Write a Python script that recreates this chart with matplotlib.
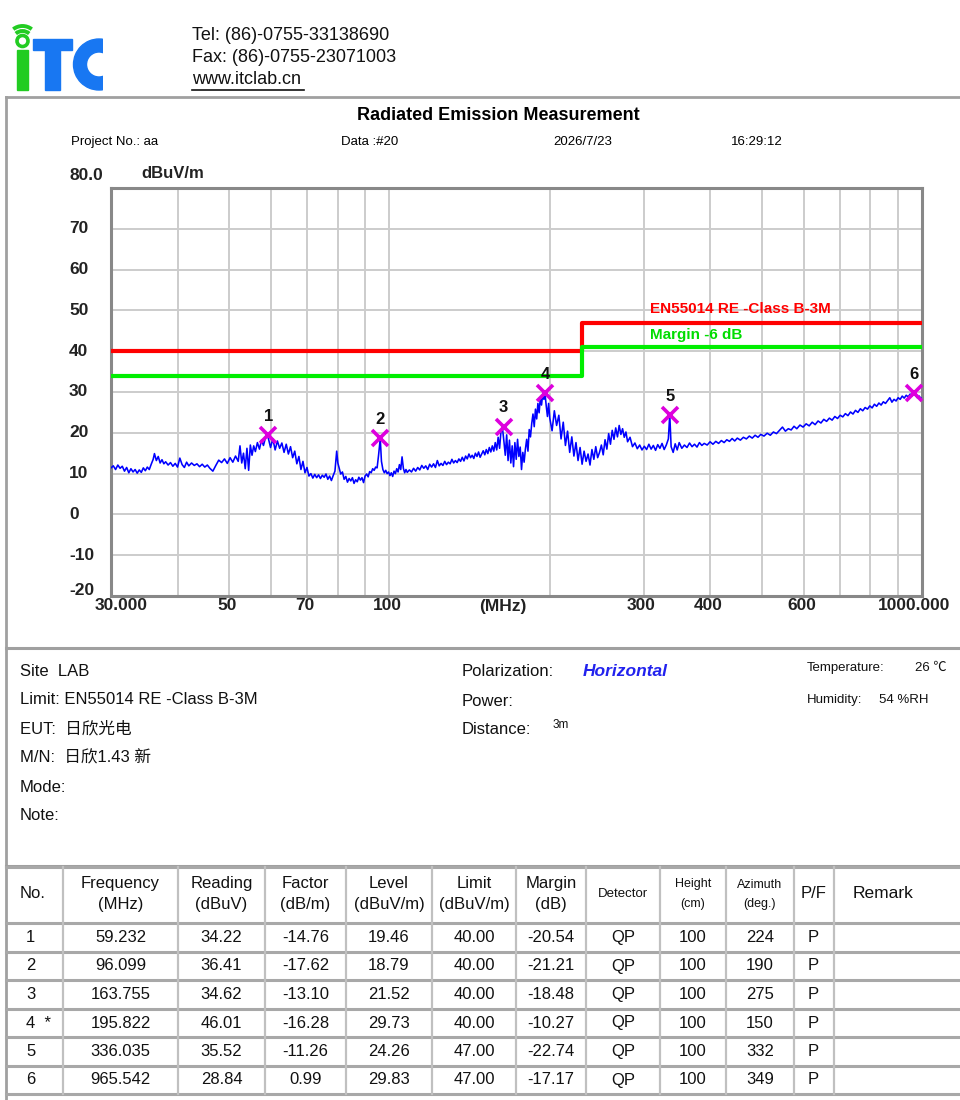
import matplotlib
matplotlib.use('Agg')
import matplotlib.pyplot as plt
from matplotlib.patches import Rectangle, Circle, Arc, Wedge
from matplotlib.ticker import NullLocator, FixedLocator

plt.rcParams['font.family'] = ['Liberation Sans', 'Noto Sans CJK SC', 'DejaVu Sans']

# ---------------- data ----------------
trace_freq = [
    30.0, 30.3, 30.6, 30.9, 31.2, 31.5, 31.8, 32.1, 32.4, 32.7, 33.0, 33.3, 33.6, 33.9,
    34.2, 34.5, 34.8, 35.1, 35.4, 35.7, 36.0, 36.2, 36.5, 36.8, 37.1, 37.4, 37.7, 38.0,
    38.4, 38.8, 39.2, 39.6, 40.0, 40.4, 40.8, 41.2, 41.6, 42.0, 42.5, 43.0, 43.5, 44.0,
    44.5, 45.0, 45.5, 46.0, 46.6, 47.2, 47.8, 48.4, 49.0, 49.6, 50.2, 50.8, 51.4, 52.0,
    52.4, 52.8, 53.2, 53.6, 54.0, 54.4, 54.8, 55.2, 55.6, 56.0, 56.5, 57.0, 57.5, 58.0,
    58.6, 59.2, 59.8, 60.4, 61.0, 61.6, 62.2, 62.8, 63.4, 64.0, 64.6, 65.2, 65.8, 66.4,
    67.0, 67.6, 68.2, 68.8, 69.4, 70.0, 70.6, 71.2, 71.8, 72.4, 73.0, 73.6, 74.2, 74.8,
    75.4, 76.0, 76.6, 77.2, 77.8, 78.4, 79.0, 79.6, 80.0, 80.5, 81.0, 81.6, 82.2, 82.8,
    83.4, 84.0, 84.6, 85.2, 85.8, 86.4, 87.0, 87.6, 88.2, 88.8, 89.4, 90.0, 90.6, 91.2,
    91.8, 92.4, 93.0, 93.6, 94.2, 94.8, 95.4, 96.1, 96.6, 97.2, 97.8, 98.4, 99.0, 99.6,
    100.2, 100.8, 101.4, 102.0, 102.6, 103.2, 103.8, 104.4, 105.0, 105.6, 106.2, 106.8,
    107.4, 108.0, 109, 110, 111, 112, 113, 114, 115, 116, 117, 118, 119, 120, 121, 122,
    123, 124, 125, 126, 127, 128, 129, 130, 131, 132, 133, 134, 135, 136, 137, 138, 139,
    140, 141, 142, 143, 144, 145, 146, 147, 148, 149, 150, 151, 152, 153, 154, 155, 156,
    157, 158, 159, 160, 161, 162, 163, 164, 165, 166, 167, 168, 169, 170, 171, 172, 173,
    174, 175, 176, 177, 178, 179, 180, 181, 182, 183, 184, 185, 186, 187, 188, 189, 190,
    191, 192, 193, 194, 195, 196, 197, 198, 199, 200, 202, 204, 206, 208, 210, 212, 214,
    216, 218, 220, 222, 224, 226, 228, 230, 232, 234, 236, 238, 240, 242, 244, 246, 248,
    250, 252, 254, 256, 258, 260, 262, 264, 266, 268, 270, 272, 274, 276, 278, 280, 283,
    286, 289, 292, 295, 298, 301, 304, 307, 310, 313, 316, 319, 322, 325, 328, 331, 334,
    336, 338, 341, 344, 347, 350, 354, 358, 362, 366, 370, 374, 378, 382, 386, 390, 395,
    400, 405, 410, 415, 420, 425, 430, 435, 440, 445, 450, 456, 462, 468, 474, 480, 486,
    492, 498, 505, 512, 519, 526, 533, 540, 547, 554, 561, 568, 575, 582, 590, 598, 606,
    614, 622, 630, 638, 646, 654, 662, 670, 678, 686, 694, 702, 710, 718, 726, 734, 742,
    750, 758, 766, 774, 782, 790, 798, 806, 814, 822, 830, 838, 846, 854, 862, 870, 878,
    886, 894, 902, 910, 918, 926, 934, 942, 950, 958, 965, 972, 980, 988, 995, 1000]
trace_level = [
    11.4, 11.9, 11.0, 12.1, 11.3, 11.8, 10.6, 11.5, 10.2, 11.2, 10.4, 11.0, 10.1, 10.9,
    10.3, 11.4, 10.7, 11.6, 11.0, 12.3, 13.5, 14.9, 13.2, 14.2, 12.6, 13.4, 12.4, 12.9,
    12.1, 12.7, 11.8, 12.5, 11.6, 13.8, 12.2, 11.5, 12.8, 11.9, 12.6, 12.0, 12.4, 11.7,
    12.3, 11.6, 12.1, 11.3, 10.6, 12.0, 13.3, 12.7, 13.6, 12.5, 13.9, 12.8, 14.3, 13.0,
    16.8, 12.6, 15.0, 11.2, 16.2, 10.8, 17.0, 14.5, 16.8, 15.4, 17.6, 16.0, 18.2, 16.9,
    19.2, 18.8, 16.4, 18.5, 15.8, 18.0, 16.2, 17.5, 15.2, 17.2, 14.8, 16.6, 13.9, 15.5,
    12.4, 14.2, 11.0, 13.0, 10.2, 11.5, 9.4, 10.0, 8.9, 9.8, 9.0, 9.7, 8.8, 9.6,
    9.1, 9.9, 8.6, 9.4, 8.3, 9.5, 10.6, 15.5, 12.6, 11.2, 9.9, 10.4, 8.6, 9.3,
    7.9, 8.8, 8.2, 9.0, 7.6, 8.5, 8.0, 9.1, 8.4, 9.0, 7.8, 9.4, 9.9, 9.2,
    10.5, 10.2, 11.2, 10.8, 11.6, 11.4, 14.5, 18.6, 13.0, 11.0, 10.2, 10.8, 10.0, 10.4,
    9.5, 10.2, 9.3, 10.6, 10.0, 11.2, 10.4, 12.2, 11.0, 14.1, 11.3, 10.2,
    11.0, 10.3, 10.9, 10.4, 11.3, 10.6, 11.5, 10.9, 12.0, 11.3, 11.9, 11.0, 12.3, 11.6, 12.4, 11.5,
    13.2, 11.9, 12.5, 12.0, 13.0, 12.2, 12.8, 12.4, 13.5, 12.6, 13.2, 12.7, 13.6, 13.0, 14.0, 13.1, 14.3,
    13.6, 14.8, 13.9, 14.5, 13.7, 15.0, 14.2, 15.3, 14.0, 14.8, 15.6, 14.6, 15.9, 14.9, 16.4, 15.3, 16.8,
    15.5, 17.6, 15.8, 18.9, 16.2, 20.6, 21.2, 18.0, 14.5, 19.5, 13.2, 18.2, 12.6, 16.8, 11.7, 17.6, 13.5,
    18.4, 14.2, 16.5, 11.0, 15.2, 12.8, 16.0, 18.4, 15.5, 20.8, 19.0, 22.3, 24.6, 21.5, 25.8, 23.4, 27.2,
    24.9, 28.6, 26.8, 29.5, 28.2, 29.4, 26.5, 24.0, 27.2, 23.6, 20.5, 25.4, 21.8, 24.3, 18.5, 22.6, 16.9,
    20.4, 15.2, 19.0, 14.3, 17.6, 13.2, 16.4, 12.3, 15.5, 13.0, 14.8, 12.1, 15.9, 13.5, 16.6, 13.9, 15.2,
    17.0, 14.6, 18.3, 16.0, 19.8, 17.2, 20.6, 18.4, 21.2, 19.0, 21.8, 19.6, 21.0, 18.9, 20.2, 17.8, 18.9,
    16.6, 17.5, 16.1, 17.0, 15.8, 16.7, 15.9, 17.2, 16.0, 16.9, 15.7, 17.1, 16.2, 17.4, 15.9, 17.0, 18.5,
    24.5, 16.6, 15.2, 17.3, 15.8, 17.6, 16.2, 17.0, 16.4, 17.5, 16.6, 17.2, 16.5, 17.6, 16.9, 17.4, 17.0,
    17.8, 17.2, 17.9, 17.4, 18.1, 17.6, 18.3, 17.9, 18.6, 18.0, 18.7, 18.2, 18.9, 18.5, 19.2, 18.7, 19.4,
    18.9, 19.6, 19.2, 19.9, 19.4, 20.2, 19.8, 20.6, 21.4, 20.4, 21.0, 20.7, 21.6, 21.0, 21.9, 21.4, 22.2,
    21.7, 22.6, 22.0, 22.9, 22.4, 23.3, 22.8, 23.6, 23.1, 24.0, 23.5, 24.3, 23.9, 24.7, 24.2, 25.1, 24.6,
    25.5, 25.0, 25.9, 25.4, 26.2, 25.8, 26.6, 26.1, 27.0, 26.5, 27.3, 26.8, 27.6, 27.2, 27.9, 28.6, 27.5,
    28.2, 27.8, 28.6, 28.2, 29.0, 28.5, 29.2, 28.8, 29.5, 29.0, 30.0, 29.2, 28.6, 29.0, 28.4, 28.5]

limit_freq = [30, 230, 230, 1000]
limit_level = [40, 40, 47, 47]
margin_level = [34, 34, 41, 41]

grid_freqs = [40, 50, 60, 70, 80, 90, 100, 200, 300, 400, 500, 600, 700, 800, 900]
xlabel_freqs = [30, 50, 70, 100, 165, 300, 400, 600, 1000]
xlabel_texts = ['30.000', '50', '70', '100', '(MHz)', '300', '400', '600', '1000.000']
ytick_values = [80, 70, 60, 50, 40, 30, 20, 10, 0, -10, -20]
ytick_texts = ['80.0', '70', '60', '50', '40', '30', '20', '10', '0', '-10', '-20']

peak_no = ['1', '2', '3', '4  *', '5', '6']
peak_freq = [59.232, 96.099, 163.755, 195.822, 336.035, 965.542]
peak_reading = [34.22, 36.41, 34.62, 46.01, 35.52, 28.84]
peak_factor = [-14.76, -17.62, -13.10, -16.28, -11.26, 0.99]
peak_level = [19.46, 18.79, 21.52, 29.73, 24.26, 29.83]
peak_limit = [40.00, 40.00, 40.00, 40.00, 47.00, 47.00]
peak_margin = [-20.54, -21.21, -18.48, -10.27, -22.74, -17.17]
peak_detector = ['QP'] * 6
peak_height = [100, 100, 100, 100, 100, 100]
peak_azimuth = [224, 190, 275, 150, 332, 349]
peak_pf = ['P'] * 6

# ---------------- figure ----------------
W, H = 960, 1100
fig = plt.figure(figsize=(W / 100, H / 100), dpi=100)
bg = fig.add_axes([0, 0, 1, 1])
bg.set_xlim(0, W)
bg.set_ylim(H, 0)
bg.axis('off')

# logo
green = '#22cc22'
blue = '#1877f2'
bg.add_patch(Rectangle((17, 50), 11, 40, color=green))
bg.add_patch(Circle((22.5, 41), 5.5, fill=False, ec=green, lw=2.6))
bg.add_patch(Arc((22.5, 41), 20, 20, theta1=228, theta2=312, color=green, lw=2.8))
bg.add_patch(Arc((22.5, 41), 30, 30, theta1=232, theta2=308, color=green, lw=2.8))
bg.add_patch(Rectangle((33, 39), 39, 11, color=blue))
bg.add_patch(Rectangle((45, 50), 15, 40, color=blue))
wc = Wedge((99, 64.5), 25.5, 0, 360, width=13, color=blue)
bg.add_patch(wc)
clip = Rectangle((60, 30), 42.5, 70, transform=bg.transData)
wc.set_clip_path(clip)

# header contact
for yy, s in [(35, 'Tel: (86)-0755-33138690'), (57, 'Fax: (86)-0755-23071003'), (80, 'www.itclab.cn')]:
    bg.text(192, yy, s, fontsize=13, va='center', ha='left', color='#111111')
bg.plot([192, 304], [89.5, 89.5], color='#111111', lw=1.2)

# frame
frame_c = '#a0a0a0'
bg.plot([6, 960], [97, 97], color=frame_c, lw=2)
bg.plot([6, 6], [97, 1100], color=frame_c, lw=2)
bg.plot([6, 960], [648, 648], color=frame_c, lw=2.2)
bg.plot([6, 960], [866, 866], color=frame_c, lw=2.2)

# title area
bg.text(498, 115, 'Radiated Emission Measurement', fontsize=13, fontweight='bold',
        ha='center', va='center')
for xx, s in [(71, 'Project No.: aa'), (341, 'Data :#20'), (553, '2026/7/23'), (731, '16:29:12')]:
    bg.text(xx, 142, s, fontsize=9.5, ha='left', va='center')
bg.text(141, 173, 'dBuV/m', fontsize=12, fontweight='bold', ha='left', va='center', color='#222222')

# ---------------- chart ----------------
ax = fig.add_axes([111 / W, 1 - 596 / H, 811 / W, 408 / H])
ax.set_xscale('log')
ax.set_xlim(30, 1000)
ax.set_ylim(-20, 80)
ax.xaxis.set_major_locator(FixedLocator(grid_freqs))
ax.xaxis.set_minor_locator(NullLocator())
ax.yaxis.set_major_locator(FixedLocator(list(range(-20, 81, 10))))
ax.yaxis.set_minor_locator(NullLocator())
ax.tick_params(length=0, labelbottom=False, labelleft=False)
ax.grid(True, color='#cccccc', lw=1.4)
ax.set_axisbelow(True)
for side, sp in ax.spines.items():
    sp.set_color('#888888')
    sp.set_linewidth(2.2)

ax.plot(trace_freq, trace_level, color='#0000ff', lw=1.15, zorder=3)
ax.plot(limit_freq, limit_level, color='#ff0000', lw=3, zorder=4)
ax.plot(limit_freq, margin_level, color='#00ee00', lw=3, zorder=4)
ax.plot(peak_freq, peak_level, 'x', color='#dd00dd', ms=11, mew=2.6, zorder=5)
for i, (f, l) in enumerate(zip(peak_freq, peak_level)):
    ax.annotate(str(i + 1), (f, l), xytext=(0, 8), textcoords='offset points',
                ha='center', va='bottom', fontsize=12, fontweight='bold', color='#111111', zorder=6)

ax.text(308, 50.3, 'EN55014 RE -Class B-3M', color='#ff0000', fontsize=11, fontweight='bold',
        va='center', ha='left', zorder=6)
ax.text(308, 44.0, 'Margin -6 dB', color='#00dd00', fontsize=11, fontweight='bold',
        va='center', ha='left', zorder=6)

# x labels
for f, s in zip(xlabel_freqs, xlabel_texts):
    if s == '30.000':
        ha, dx = 'left', -16
    elif s == '1000.000':
        ha, dx = 'right', 28
    else:
        ha, dx = 'center', -2
    ax.annotate(s, xy=(f, 0), xycoords=('data', 'axes fraction'), xytext=(dx, -10),
                textcoords='offset pixels', ha=ha, va='center', fontsize=12.5,
                fontweight='bold', color='#222222', annotation_clip=False)

# y labels
for v, s in zip(ytick_values, ytick_texts):
    dy = 13 if v == 80 else (6 if v == -20 else 0)
    ax.annotate(s, xy=(0, v), xycoords=('axes fraction', 'data'), xytext=(-42, dy),
                textcoords='offset pixels', ha='left', va='center', fontsize=12.5,
                fontweight='bold', color='#222222', annotation_clip=False)

# ---------------- info section ----------------
info_left = [(672, 'Site  LAB'), (700, 'Limit: EN55014 RE -Class B-3M'), (729, 'EUT:  日欣光电'),
             (758, 'M/N:  日欣1.43 新'), (787, 'Mode:'), (816, 'Note:')]
for yy, s in info_left:
    bg.text(20, yy, s, fontsize=12, ha='left', va='center', color='#111111')
bg.text(462, 672, 'Polarization:', fontsize=12, ha='left', va='center', color='#111111')
bg.text(583, 672, 'Horizontal', fontsize=12.5, fontweight='bold', fontstyle='italic',
        ha='left', va='center', color='#2222ee')
bg.text(462, 701, 'Power:', fontsize=12, ha='left', va='center', color='#111111')
bg.text(462, 730, 'Distance:', fontsize=12, ha='left', va='center', color='#111111')
bg.text(553, 725, '3m', fontsize=8.5, ha='left', va='center', color='#111111')
bg.text(807, 668, 'Temperature:', fontsize=9.5, ha='left', va='center', color='#111111')
bg.text(915, 668, '26 ℃', fontsize=9.5, ha='left', va='center', color='#111111')
bg.text(807, 700, 'Humidity:', fontsize=9.5, ha='left', va='center', color='#111111')
bg.text(879, 700, '54 %RH', fontsize=9.5, ha='left', va='center', color='#111111')

# ---------------- table ----------------
col_edges = [6, 63, 178, 265, 346, 432, 516, 586, 660, 726, 794, 834, 960]
row_lines = [867, 923, 952, 980, 1009, 1037, 1066, 1094]
tbl_c = '#a8a8a8'
for yy in row_lines:
    bg.plot([6, 960], [yy, yy], color=tbl_c, lw=2.2)
for xx in col_edges[1:-1]:
    bg.plot([xx, xx], [867, 1094], color='#c0c0c0', lw=1.6)

headers = [('No.', None, 12), ('Frequency', '(MHz)', 12), ('Reading', '(dBuV)', 12),
           ('Factor', '(dB/m)', 12), ('Level', '(dBuV/m)', 12), ('Limit', '(dBuV/m)', 12),
           ('Margin', '(dB)', 12), ('Detector', None, 9.5), ('Height', '(cm)', 9),
           ('Azimuth', '(deg.)', 9), ('P/F', None, 12)]
for i, (h1, h2, fs) in enumerate(headers):
    cx = (col_edges[i] + col_edges[i + 1]) / 2
    if i == 0:
        cx = 33
    if h2 is None:
        bg.text(cx, 894, h1, fontsize=fs, ha='center', va='center', color='#111111')
    else:
        off = 10.5 if fs > 10 else 9.5
        bg.text(cx, 894 - off, h1, fontsize=fs, ha='center', va='center', color='#111111')
        bg.text(cx, 894 + off, h2, fontsize=fs, ha='center', va='center', color='#111111')
bg.text(853, 894, 'Remark', fontsize=12.5, ha='left', va='center', color='#111111')

for r in range(len(peak_freq)):
    yy = (row_lines[r + 1] + row_lines[r + 2]) / 2
    vals = [peak_no[r], f'{peak_freq[r]:.3f}', f'{peak_reading[r]:.2f}', f'{peak_factor[r]:.2f}',
            f'{peak_level[r]:.2f}', f'{peak_limit[r]:.2f}', f'{peak_margin[r]:.2f}',
            peak_detector[r], str(peak_height[r]), str(peak_azimuth[r]), peak_pf[r]]
    for c, s in enumerate(vals):
        if c == 0:
            bg.text(26, yy, s, fontsize=12, ha='left', va='center', color='#111111')
        elif c == 10:
            bg.text(813, yy, s, fontsize=12, ha='center', va='center', color='#111111')
        else:
            cx = (col_edges[c] + col_edges[c + 1]) / 2
            bg.text(cx, yy, s, fontsize=12, ha='center', va='center', color='#111111')

fig.savefig('out.png', dpi=100, facecolor='white')
